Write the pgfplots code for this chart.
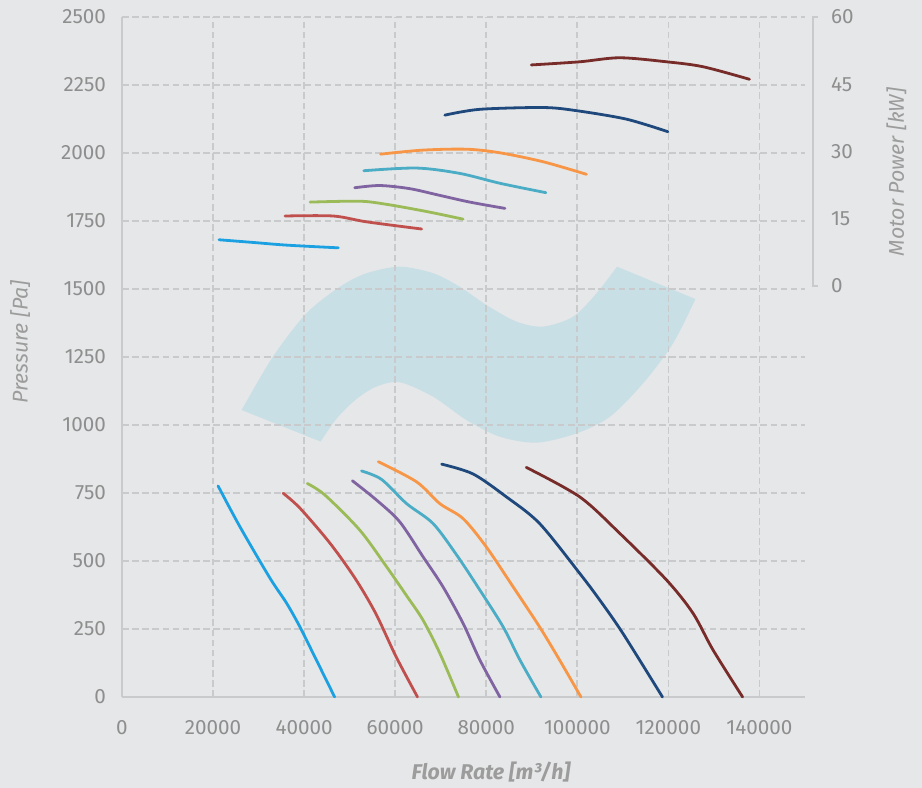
\documentclass[border=0pt]{standalone}
\usepackage{fontspec}
\setmainfont{Fira Sans}
\usepackage{pgfplots}
\pgfplotsset{compat=1.18}
\usepgfplotslibrary{fillbetween}
\definecolor{bg}{HTML}{E6E7E8}
\definecolor{gridc}{HTML}{C9CACC}
\definecolor{txt}{HTML}{8E8E8E}
\definecolor{lab}{HTML}{9C9C9C}
\definecolor{shade}{HTML}{C9DFE6}
\definecolor{c1}{HTML}{1BA1E2}
\definecolor{c2}{HTML}{C0504D}
\definecolor{c3}{HTML}{9BBB59}
\definecolor{c4}{HTML}{8064A2}
\definecolor{c5}{HTML}{4BACC6}
\definecolor{c6}{HTML}{F79646}
\definecolor{c7}{HTML}{1F497D}
\definecolor{c8}{HTML}{772C2A}
\pgfplotsset{
  common/.style={
    at={(0,0)}, anchor=south west, scale only axis,
    width=512.25pt, height=510pt,
    xmin=0, xmax=150000,
    clip=false,
    scaled x ticks=false, scaled y ticks=false,
    /pgf/number format/assume math mode=true,
    /pgf/number format/fixed,
    /pgf/number format/precision=0,
    /pgf/number format/1000 sep={},
  },
  crv/.style={smooth, tension=0.5, line width=2.1pt, line cap=round, no markers},
}
\begin{document}
\begin{tikzpicture}[x=1pt,y=1pt]
\fill[bg] (-91.5,-68.25) rectangle (600,522.75);
% shaded operating region (under grid)
\begin{axis}[common, ymin=0, ymax=2500, hide axis]
\addplot[smooth, draw=none, name path=top] coordinates {
(26270,1055) (33140,1251) (40540,1411) (47850,1508) (53710,1558) (61020,1582)
(68330,1558) (74190,1508) (80050,1441) (86640,1380) (92480,1362) (99060,1398)
(104200,1484) (108720,1582)};
\addplot[smooth, draw=none, name path=bot] coordinates {
(43620,939) (47200,1025) (51600,1097) (56000,1142) (61020,1157) (68330,1104)
(75660,1018) (82970,957) (91030,935) (99810,969) (107120,1030) (114430,1153)
(121010,1300) (125930,1463)};
\addplot[fill=shade, draw=none] fill between[of=top and bot, on layer=main];
\end{axis}
% main pressure axis
\begin{axis}[common, ymin=0, ymax=2500,
  axis x line=bottom, axis y line=left,
  axis line style={gridc, line width=1.3pt, -},
  major tick length=0pt,
  xtick={0,20000,...,140000}, ytick={0,250,...,2500},
  grid=major,
  major grid style={gridc, line width=1.3pt, dash pattern=on 5pt off 2.6pt},
  ticklabel style={font=\fontsize{15.5}{17}\selectfont, text=txt},
  yticklabel style={xshift=-8.5pt},
  xticklabel style={yshift=-14pt},
  xlabel={\bfseries\itshape Flow Rate [m³/h]},
  xlabel style={at={(axis description cs:0.54,-0.11)}, anchor=center, font=\fontsize{16}{18}\selectfont, text=lab},
  ylabel={\itshape Pressure [Pa]},
  ylabel style={at={(axis description cs:-0.149,0.522)}, anchor=center, font=\fontsize{16}{18}\selectfont, text=lab},
]
\addplot[crv, c1] coordinates {(21100,776) (25900,626) (32500,437) (36150,345) (39070,258) (41950,161) (46700,0)};
\addplot[crv, c2] coordinates {(35400,749) (39100,694) (45700,565) (51200,436) (55700,308) (60200,148) (64900,0)};
\addplot[crv, c3] coordinates {(40700,785) (44600,742) (52200,614) (58100,479) (62600,370) (66100,283) (69800,161) (73900,0)};
\addplot[crv, c4] coordinates {(50600,795) (55900,724) (61000,644) (66100,516) (70500,405) (74900,271) (78600,136) (83000,0)};
\addplot[crv, c5] coordinates {(52600,831) (57000,800) (62500,711) (68300,638) (73500,522) (78600,393) (83700,258) (87400,136) (92000,0)};
\addplot[crv, c6] coordinates {(56300,865) (64700,791) (69800,711) (74900,656) (80000,552) (85900,405) (91700,258) (96100,136) (100800,0)};
\addplot[crv, c7] coordinates {(70200,856) (77100,820) (84400,736) (91700,638) (100500,455) (104900,357) (110000,234) (118700,0)};
\addplot[crv, c8] coordinates {(88800,844) (100500,736) (109300,602) (119600,430) (125400,308) (129800,173) (136300,0)};
\end{axis}
% motor power axis
\begin{axis}[common, ymin=-91.7, ymax=60,
  axis x line=none, axis y line*=right,
  xtick=\empty,
  y axis line style={draw=none},
  major tick length=0pt,
  ytick={0,15,30,45,60},
  ticklabel style={font=\fontsize{15.5}{17}\selectfont, text=txt},
  yticklabel style={anchor=west, xshift=16pt},
  ylabel={\itshape Motor Power [kW]},
  ylabel style={at={(axis description cs:1.134,0.772)}, anchor=center, font=\fontsize{16}{18}\selectfont, text=lab},
]
\draw[gridc, line width=1.3pt] (axis cs:152900,60) -- (axis cs:151700,60) -- (axis cs:151700,0) -- (axis cs:152900,0);
\addplot[crv, c1] coordinates {(21300,10.3) (28800,9.7) (36200,9.1) (47500,8.5)};
\addplot[crv, c2] coordinates {(35800,15.6) (46400,15.6) (53700,14.3) (65800,12.7)};
\addplot[crv, c3] coordinates {(41300,18.7) (52200,18.9) (58100,18.2) (66900,16.6) (74900,14.9)};
\addplot[crv, c4] coordinates {(51100,21.9) (56600,22.4) (63200,21.7) (69800,20.2) (76400,18.7) (84100,17.3)};
\addplot[crv, c5] coordinates {(53100,25.7) (64700,26.3) (74200,25.1) (83000,22.9) (93100,20.8)};
\addplot[crv, c6] coordinates {(56800,29.4) (66100,30.3) (75700,30.5) (83000,29.7) (92500,27.7) (102000,24.9)};
\addplot[crv, c7] coordinates {(70900,38.1) (78600,39.4) (92500,39.8) (99800,39.1) (110800,37.2) (119900,34.4)};
\addplot[crv, c8] coordinates {(89900,49.3) (100500,50.0) (109300,50.9) (119600,50.0) (127600,48.9) (137800,46.1)};
\end{axis}
\end{tikzpicture}
\end{document}
